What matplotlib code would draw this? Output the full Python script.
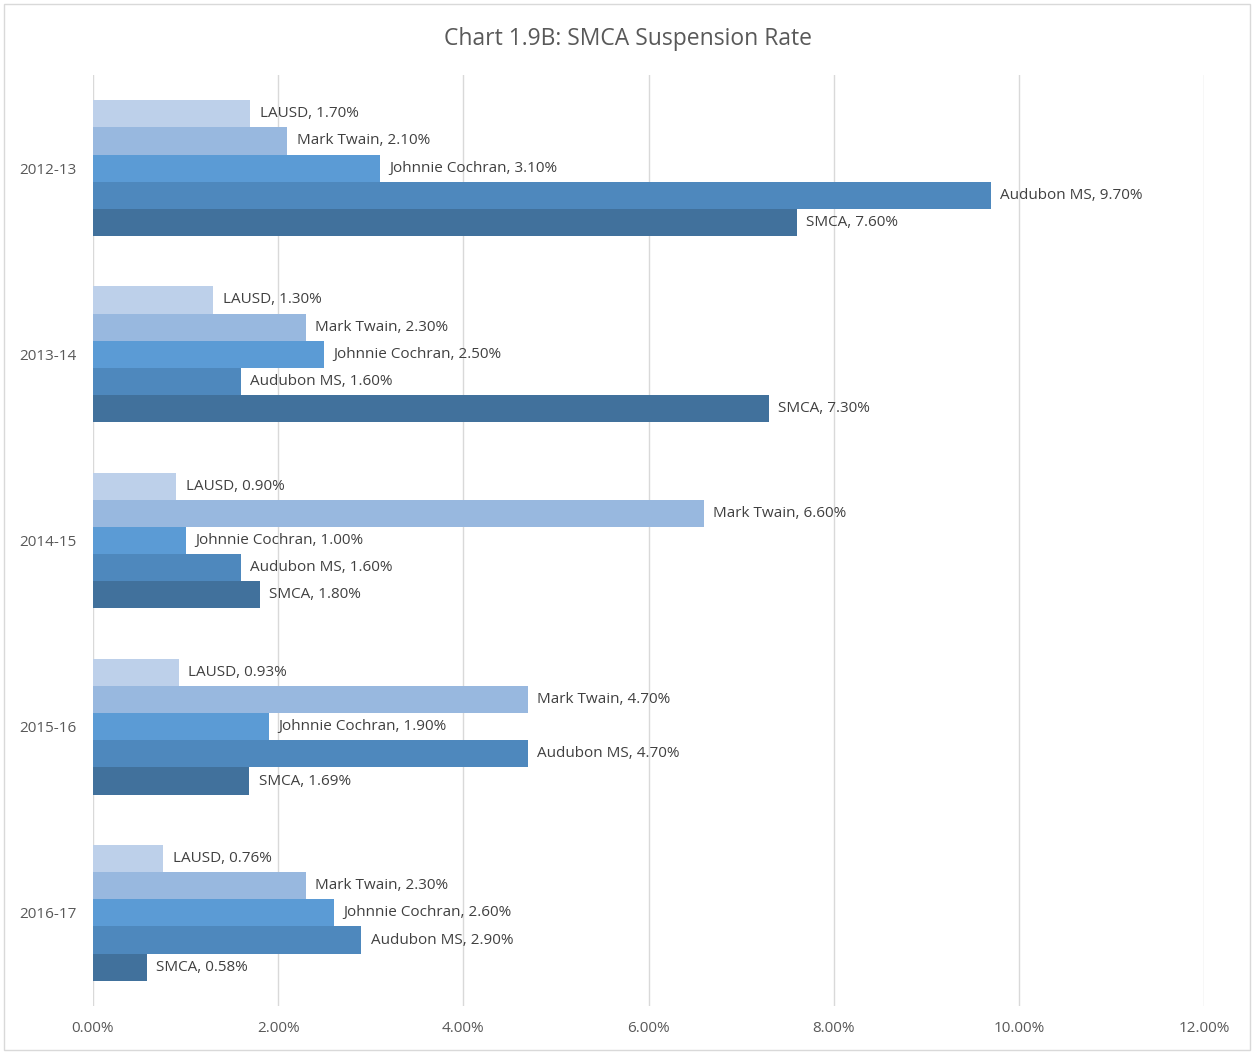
import numpy as np
import matplotlib
matplotlib.use("Agg")
import matplotlib.pyplot as plt
from matplotlib.patches import Rectangle

years = ["2012-13", "2013-14", "2014-15", "2015-16", "2016-17"]
schools = ["LAUSD", "Mark Twain", "Johnnie Cochran", "Audubon MS", "SMCA"]
lausd = [1.70, 1.30, 0.90, 0.93, 0.76]
mark_twain = [2.10, 2.30, 6.60, 4.70, 2.30]
johnnie_cochran = [3.10, 2.50, 1.00, 1.90, 2.60]
audubon = [9.70, 1.60, 1.60, 4.70, 2.90]
smca = [7.60, 7.30, 1.80, 1.69, 0.58]
ticks = [0, 2, 4, 6, 8, 10, 12]

series = [lausd, mark_twain, johnnie_cochran, audubon, smca]
colors = ["#BDD0EA", "#98B8DF", "#5B9BD5", "#4E88BD", "#41719C"]

plt.rcParams["font.family"] = ["Open Sans", "DejaVu Sans"]
fig = plt.figure(figsize=(12.52, 10.52), dpi=100)
fig.patches.append(Rectangle((4 / 1252, 2 / 1052), 1246 / 1252, 1046 / 1052,
                             transform=fig.transFigure, fill=False,
                             edgecolor="#D9D9D9", linewidth=1))
ax = fig.add_axes([93 / 1252, 46 / 1052, 1111 / 1252, 931 / 1052])

bh = 0.146
y = np.arange(len(years))
for i, (name, vals, c) in enumerate(zip(schools, series, colors)):
    pos = y + (i - 2) * bh
    ax.barh(pos, vals, height=bh, color=c, zorder=2)
    for p, v in zip(pos, vals):
        ax.text(v + 0.1, p, f"{name}, {v:.2f}%", va="center", ha="left",
                fontsize=11, color="#404040", zorder=3)

ax.set_xlim(0, 12)
ax.set_ylim(len(years) - 0.5, -0.5)
ax.set_xticks(ticks)
ax.set_xticklabels([f"{t:.2f}%" for t in ticks], fontsize=11, color="#595959")
ax.set_yticks(y)
ax.set_yticklabels(years, fontsize=11, color="#595959")
ax.tick_params(length=0, pad=11)
ax.tick_params(axis="y", pad=12)
ax.grid(axis="x", color="#D9D9D9", linewidth=1, zorder=0)
for s in ax.spines.values():
    s.set_visible(False)

fig.text(628 / 1252, 1 - 39 / 1052, "Chart 1.9B: SMCA Suspension Rate",
         ha="center", va="center", fontsize=16.5, color="#595959")

fig.savefig("out.png", dpi=100)
